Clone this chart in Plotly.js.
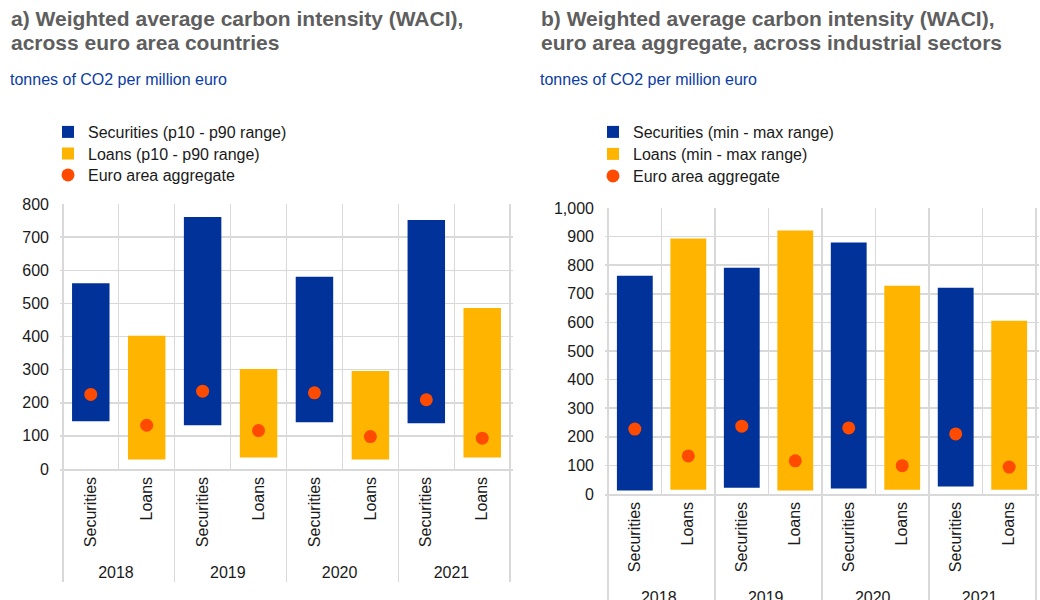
<!DOCTYPE html>
<html>
<head>
<meta charset="utf-8">
<script src="https://cdn.plot.ly/plotly-3.0.1.min.js"></script>
<style>
  html, body { margin: 0; padding: 0; background: #fff; }
  #chart { width: 1040px; height: 600px; }
</style>
</head>
<body>
<div id="chart"></div>
<script>
// ---------- data ----------
const years = ['2018', '2019', '2020', '2021'];
const instruments = ['Securities', 'Loans'];

// Panel a: across euro area countries (p10 - p90 range)
const aSecLow = [144, 132, 141, 138];
const aSecHigh = [561, 761, 580, 752];
const aLoanLow = [29, 35, 29, 35];
const aLoanHigh = [402, 302, 296, 486];
const aSecAgg = [225, 235, 230, 209];
const aLoanAgg = [132, 116, 98, 93];

// Panel b: euro area aggregate across industrial sectors (min - max range)
const bSecLow = [12, 22, 19, 26];
const bSecHigh = [763, 791, 879, 721];
const bLoanLow = [15, 12, 15, 15];
const bLoanHigh = [893, 921, 728, 606];
const bSecAgg = [227, 237, 231, 210];
const bLoanAgg = [133, 116, 99, 94];

const aLegend = ['Securities (p10 - p90 range)', 'Loans (p10 - p90 range)', 'Euro area aggregate'];
const bLegend = ['Securities (min - max range)', 'Loans (min - max range)', 'Euro area aggregate'];

// ---------- styling ----------
const FONT = 'Liberation Sans, Arial, sans-serif';
const BLUE = '#003299';
const YELLOW = '#ffb400';
const ORANGE = '#ff4b00';
const GRID = '#d9d9d9';
const TXT = 16;

function panelTraces(secLow, secHigh, loanLow, loanHigh, secAgg, loanAgg, names, xa, ya, legendIds) {
  const secX = [years, years.map(() => instruments[0])];
  const loanX = [years, years.map(() => instruments[1])];
  const allYears = [], allInst = [], aggVals = [];
  years.forEach((y, i) => {
    allYears.push(y, y); allInst.push(instruments[0], instruments[1]);
    aggVals.push(secAgg[i], loanAgg[i]);
  });
  return [
    {
      type: 'bar', name: names[0], x: secX,
      base: secLow, y: secHigh.map((h, i) => h - secLow[i]),
      marker: { color: BLUE }, width: 0.67,
      xaxis: xa, yaxis: ya, legend: legendIds[0], hoverinfo: 'skip'
    },
    {
      type: 'bar', name: names[1], x: loanX,
      base: loanLow, y: loanHigh.map((h, i) => h - loanLow[i]),
      marker: { color: YELLOW }, width: 0.67,
      xaxis: xa, yaxis: ya, legend: legendIds[1], hoverinfo: 'skip'
    },
    {
      type: 'scatter', mode: 'markers', name: names[2],
      x: [allYears, allInst], y: aggVals,
      marker: { color: ORANGE, size: 13 },
      xaxis: xa, yaxis: ya, legend: legendIds[2], hoverinfo: 'skip'
    }
  ];
}

const data = [].concat(
  panelTraces(aSecLow, aSecHigh, aLoanLow, aLoanHigh, aSecAgg, aLoanAgg, aLegend, 'x', 'y',
              ['legend', 'legend2', 'legend3']),
  panelTraces(bSecLow, bSecHigh, bLoanLow, bLoanHigh, bSecAgg, bLoanAgg, bLegend, 'x2', 'y2',
              ['legend4', 'legend5', 'legend6'])
);

const W = 1040, H = 600;
const px = v => v / W;
const py = v => 1 - v / H;

function xAxis(domain, anchor) {
  return {
    type: 'multicategory', domain: domain, anchor: anchor,
    tickson: 'boundaries', showgrid: true, gridcolor: GRID, gridwidth: 1.5,
    showline: true, linecolor: GRID, linewidth: 1.5,
    ticks: '', tickangle: -90,
    showdividers: true, dividercolor: GRID, dividerwidth: 1.5,
    tickfont: { family: FONT, size: TXT, color: '#1a1a1a' },
    fixedrange: true
  };
}
function yAxis(domain, anchor, range, fmt) {
  return {
    domain: domain, anchor: anchor, range: range, dtick: 100,
    showgrid: true, gridcolor: GRID, gridwidth: 1.5, zeroline: false,
    showline: false, ticks: '', tickformat: fmt, ticklabelstandoff: 10,
    tickfont: { family: FONT, size: TXT, color: '#1a1a1a' },
    fixedrange: true
  };
}

const titleFont = { family: FONT, size: 21, color: '#5e5e5e' };
const subFont = { family: FONT, size: TXT, color: '#0a3ca5' };
function ann(x, y, text, font) {
  return { xref: 'paper', yref: 'paper', x: px(x), y: py(y), xanchor: 'left', yanchor: 'middle',
           text: text, font: font, showarrow: false };
}

function leg(x, top) {
  return {
    x: px(x), y: py(top), xanchor: 'left', yanchor: 'top',
    bgcolor: 'rgba(0,0,0,0)', borderwidth: 0,
    font: { family: FONT, size: TXT, color: '#1a1a1a' }
  };
}

const layout = {
  width: W, height: H,
  margin: { l: 0, r: 0, t: 0, b: 0 },
  paper_bgcolor: '#ffffff', plot_bgcolor: '#ffffff',
  barmode: 'overlay',
  font: { family: FONT, size: TXT, color: '#1a1a1a' },
  xaxis: xAxis([px(60), px(513)], 'y'),
  yaxis: yAxis([py(469), py(204)], 'x', [0, 800], ''),
  xaxis2: xAxis([px(605), px(1039)], 'y2'),
  yaxis2: yAxis([py(494), py(208)], 'x2', [0, 1000], ','),
  legend: leg(48, 115),
  legend2: leg(48, 136.5),
  legend3: leg(48, 158),
  legend4: leg(593, 115),
  legend5: leg(593, 137),
  legend6: leg(593, 159),
  showlegend: true,
  annotations: [
    ann(9, 19, '<b>a) Weighted average carbon intensity (WACI),</b>', titleFont),
    ann(9, 43, '<b>across euro area countries</b>', titleFont),
    ann(8, 80, 'tonnes of CO2 per million euro', subFont),
    ann(539, 19, '<b>b) Weighted average carbon intensity (WACI),</b>', titleFont),
    ann(539, 43, '<b>euro area aggregate, across industrial sectors</b>', titleFont),
    ann(538, 80, 'tonnes of CO2 per million euro', subFont)
  ]
};

Plotly.newPlot('chart', data, layout, { displayModeBar: false, staticPlot: true });
</script>
</body>
</html>
